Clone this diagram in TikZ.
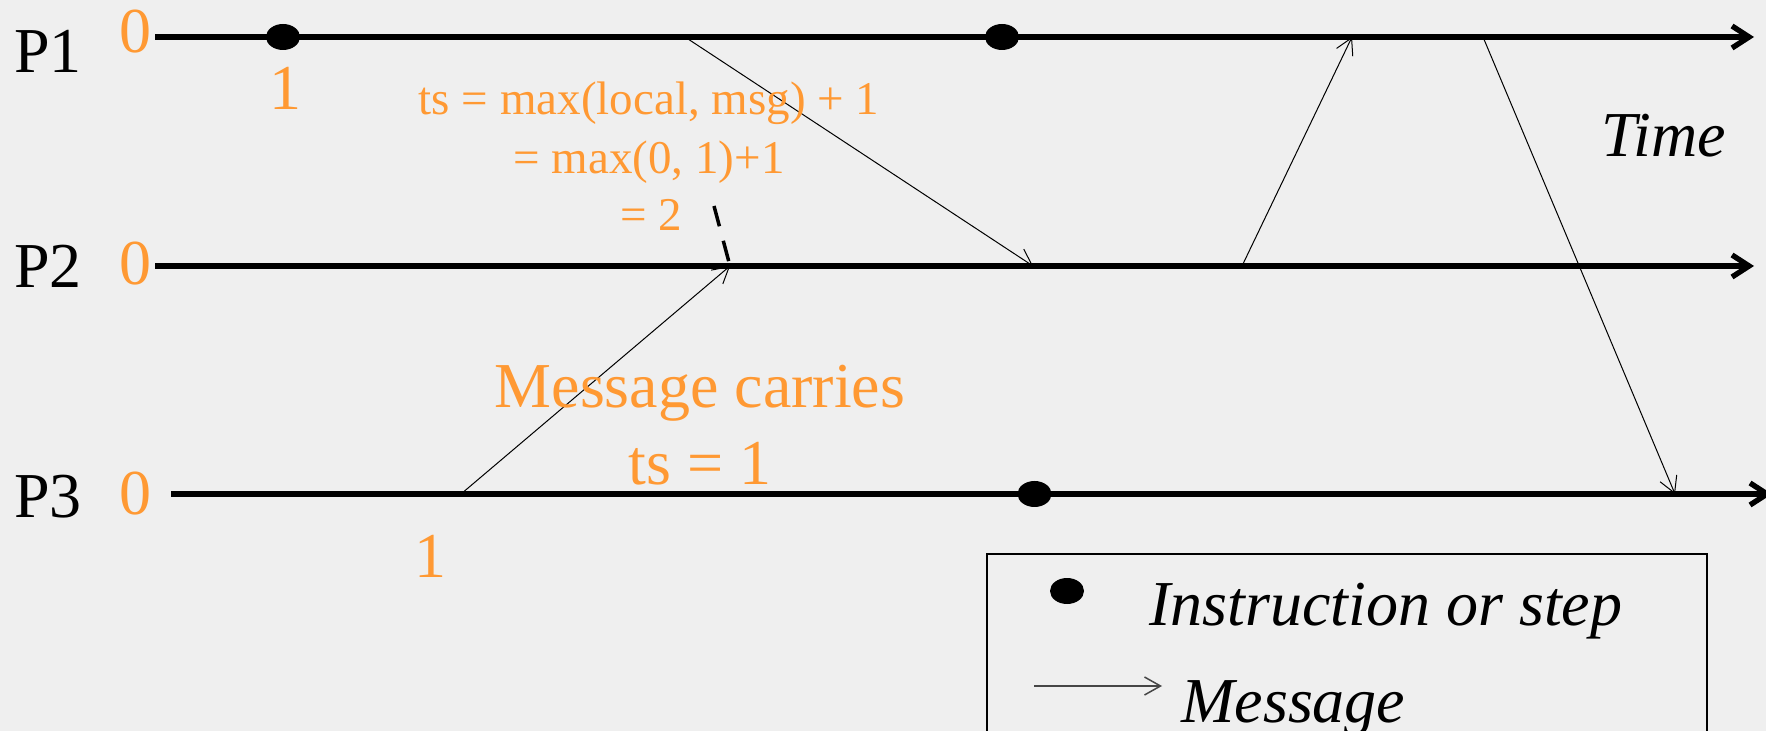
\documentclass[tikz,border=0pt]{standalone}
\usepackage{fontspec}
\setmainfont{Liberation Serif}
\usetikzlibrary{arrows.meta,shapes.geometric}
\definecolor{bg}{RGB}{239,239,239}
\definecolor{tsorange}{RGB}{255,153,51}
\definecolor{legendgray}{RGB}{70,70,70}
\begin{document}
\begin{tikzpicture}[x=0.5pt,y=-0.5pt,
  timeline/.style={line width=2.7pt,-{Straight Barb[length=8.5pt,width=11pt]}},
  msg/.style={line width=0.5pt,-{Straight Barb[length=8pt,width=9pt]}},
  dot/.style={ellipse,fill=black,draw=none,minimum width=17pt,minimum height=13pt,inner sep=0pt},
  biglabel/.style={font=\fontsize{32}{38}\selectfont,inner sep=0pt},
  orangelabel/.style={biglabel,text=tsorange},
  formula/.style={font=\fontsize{23.5}{28}\selectfont,text=tsorange,inner sep=0pt,anchor=base},
  italiclabel/.style={font=\fontsize{32}{38}\selectfont\itshape,inner sep=0pt,anchor=base west},
  noteline/.style={line width=1.75pt,dash pattern=on 10.5pt off 7.5pt}
]
\useasboundingbox (0,0) rectangle (1766,731);
\fill[bg] (0,0) rectangle (1766,731);
\clip (0,0) rectangle (1766,731);

% timeline end points
\coordinate (p1s) at (155,37);  \coordinate (p1e) at (1754,37);
\coordinate (p2s) at (155,266); \coordinate (p2e) at (1754,266);
\coordinate (p3s) at (171,494); \coordinate (p3e) at (1772,494);

% events
\coordinate (m1s) at (685,37);
\coordinate (m3r) at (1352,37);
\coordinate (m4s) at (1483,37);
\coordinate (m2r) at (730,266);
\coordinate (m1r) at (1033,266);
\coordinate (m3s) at (1242,266);
\coordinate (m2s) at (461,494);
\coordinate (m4r) at (1675,494);
\coordinate (notetop) at (714,206);

% process labels
\node[biglabel,anchor=base west] (lp1) at (14,73) {P1};
\node[biglabel,anchor=base west] (lp2) at (14,288) {P2};
\node[biglabel,anchor=base west] (lp3) at (14,517) {P3};

\node[orangelabel,anchor=base] (z1) at (135,53) {0};
\node[orangelabel,anchor=base] (z2) at (135,285) {0};
\node[orangelabel,anchor=base] (z3) at (135,515) {0};

% timelines
\draw[timeline] (p1s) -- (p1e);
\draw[timeline] (p2s) -- (p2e);
\draw[timeline] (p3s) -- (p3e);

% steps
\node[dot] (d1) at (283,37) {};
\node[dot] (d2) at (1002,37) {};
\node[dot] (d3) at (1034.5,494) {};

\node[orangelabel,anchor=base] (c1) at (285.5,110) {1};
\node[orangelabel,anchor=base] (c3) at (430,577) {1};

% messages
\draw[msg] (m1s) -- (m1r);
\draw[msg] (m2s) -- (m2r);
\draw[msg] (m3s) -- (m3r);
\draw[msg] (m4s) -- (m4r);

% annotation
\node[formula] (f1) at (649,115) {ts = max(local, msg) + 1};
\node[formula] (f2) at (649,174) {= max(0, 1)+1};
\node[formula] (f3) at (651,231) {= 2};
\draw[noteline] (notetop) -- (m2r);

\node[orangelabel,anchor=base] (mc1) at (700,408) {Message carries};
\node[orangelabel,anchor=base] (mc2) at (700,485) {ts = 1};

\node[italiclabel] (time) at (1601,157) {Time};

% legend
\draw[line width=0.75pt] (987,554) rectangle (1707,780);
\node[dot] (ld) at (1067,591) {};
\node[italiclabel] (lt1) at (1149,625) {Instruction or step};
\coordinate (la1) at (1034,686);
\coordinate (la2) at (1162,686);
\draw[msg,draw=legendgray,line width=0.75pt] (la1) -- (la2);
\node[italiclabel] (lt2) at (1181,722) {Message};
\end{tikzpicture}
\end{document}
